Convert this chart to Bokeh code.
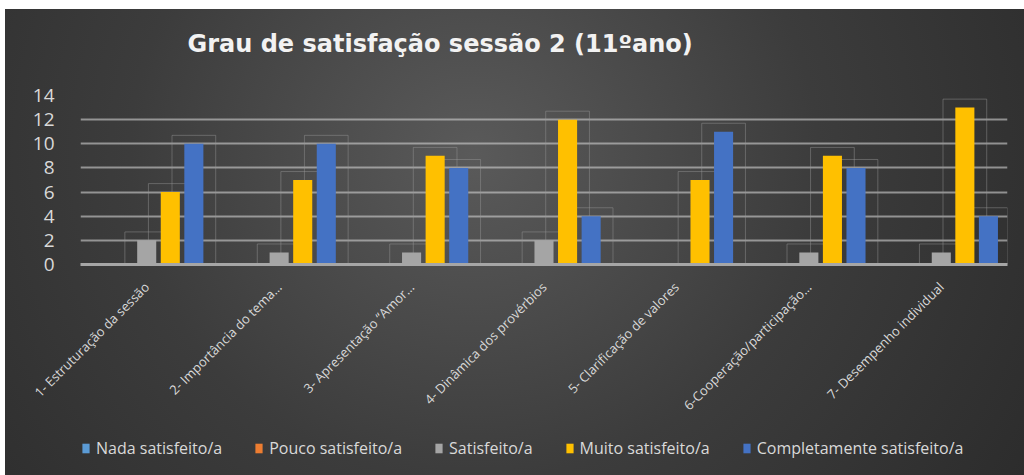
import math
from bokeh.plotting import figure
from bokeh.layouts import column
from bokeh.models import ColumnDataSource, FactorRange, Legend, LegendItem, FixedTicker
from bokeh.transform import dodge
from bokeh.embed import file_html
from bokeh.resources import INLINE

categories = [
    "1- Estruturação da sessão",
    "2- Importância do tema…",
    "3- Apresentação “Amor…",
    "4- Dinâmica dos provérbios",
    "5- Clarificação de valores",
    "6-Cooperação/participação…",
    "7- Desempenho individual",
]
series_names = ["Nada satisfeito/a", "Pouco satisfeito/a", "Satisfeito/a",
                "Muito satisfeito/a", "Completamente satisfeito/a"]
nada = [0, 0, 0, 0, 0, 0, 0]
pouco = [0, 0, 0, 0, 0, 0, 0]
satisfeito = [2, 1, 1, 2, 0, 1, 1]
muito = [6, 7, 9, 12, 7, 9, 13]
completamente = [10, 10, 8, 4, 11, 8, 4]
y_ticks = [0, 2, 4, 6, 8, 10, 12, 14]

colors = ["#5b9bd5", "#ed7d31", "#a5a5a5", "#ffc000", "#4472c4"]
series = [nada, pouco, satisfeito, muito, completamente]

data = dict(cat=categories)
for i, vals in enumerate(series):
    data[f"s{i}"] = vals
    data[f"b{i}"] = [v + 0.7 if v > 0 else float("nan") for v in vals]
src = ColumnDataSource(data)

fig = figure(x_range=FactorRange(*categories), y_range=(0, 14),
             frame_width=927, frame_height=169,
             output_backend="svg", toolbar_location=None,
             min_border_left=75, min_border_right=17, min_border_top=86,
             min_border_bottom=280)

fig.styles = {"margin-left": "5px", "margin-top": "-11px",
              "background": "linear-gradient(#ffffff, #ffffff) top / 100% 20px no-repeat, "
                            "radial-gradient(ellipse 75% 130% at 46% 30%, #5a5a5a 0%, #3c3c3c 45%, #262626 100%)"}
fig.background_fill_color = None
fig.border_fill_color = None
fig.outline_line_color = None

step = 0.178
bar_w = 0.144
box_w = 0.33

# faint outline boxes behind bars
for i in range(5):
    off = (i - 2) * step
    fig.vbar(x=dodge("cat", off, range=fig.x_range), top=f"b{i}", bottom=0, width=box_w,
             source=src, fill_color=None, line_color="#9a9a9a", line_alpha=0.45, line_width=1)

for i in range(5):
    off = (i - 2) * step
    fig.vbar(x=dodge("cat", off, range=fig.x_range), top=f"s{i}", width=bar_w, source=src,
             fill_color=colors[i], line_color=None)

fig.title.text = "Grau de satisfação sessão 2 (11ºano)"
fig.title.text_font = "DejaVu Sans"
fig.title.text_font_size = "24px"
fig.title.text_font_style = "bold"
fig.title.text_color = "#f2f2f2"
fig.title.align = "left"
fig.title.offset = 107
fig.title.standoff = 76

fig.xgrid.grid_line_color = None
fig.ygrid.grid_line_color = "#d0d0d0"
fig.ygrid.grid_line_alpha = 0.6
fig.ygrid.grid_line_width = 2

fig.yaxis.ticker = FixedTicker(ticks=y_ticks)
fig.yaxis.axis_line_color = None
fig.yaxis.major_tick_line_color = None
fig.yaxis.minor_tick_line_color = None
fig.yaxis.major_label_text_font = "Open Sans"
fig.yaxis.major_label_text_font_size = "19px"
fig.yaxis.major_label_text_color = "#d9d9d9"
fig.yaxis.major_label_standoff = 20

fig.xaxis.major_label_orientation = math.pi / 4
fig.xaxis.major_label_text_font = "Open Sans"
fig.xaxis.major_label_text_font_size = "13px"
fig.xaxis.major_label_text_color = "#d9d9d9"
fig.xaxis.major_tick_line_color = None
fig.xaxis.axis_line_color = "#a6a6a6"
fig.xaxis.axis_line_width = 3
fig.xaxis.major_label_standoff = 14

# legend strip (separate figure overlapped on the chart's bottom)
leg = figure(x_range=FactorRange(*categories), y_range=(0, 14), width=1019, height=30,
             output_backend="svg", toolbar_location=None, x_axis_type=None, y_axis_type=None,
             min_border=0, min_border_left=0, min_border_right=0, min_border_top=0, min_border_bottom=0)
leg.styles = {"margin-left": "5px", "margin-top": "-115px"}
leg.background_fill_color = None
leg.border_fill_color = None
leg.outline_line_color = None
leg.grid.grid_line_color = None
proxies = []
for i in range(5):
    r = leg.vbar(x="cat", top=f"s{i}", width=bar_w, source=src,
                 fill_color=colors[i], line_color=None, visible=False)
    proxies.append(r)

legend = Legend(items=[LegendItem(label=n, renderers=[r]) for n, r in zip(series_names, proxies)],
                orientation="horizontal", location=(1, 0))
legend.background_fill_alpha = 0
legend.border_line_color = None
legend.inactive_fill_alpha = 0
legend.label_text_font = "Open Sans"
legend.label_text_font_size = "16px"
legend.label_text_color = "#d9d9d9"
legend.glyph_width = 9
legend.glyph_height = 12
legend.label_standoff = 6
legend.spacing = 32
legend.margin = 0
legend.padding = 4
leg.add_layout(legend, "center")

p = column(fig, leg, spacing=0)

open("out.html", "w").write(file_html(p, INLINE))
